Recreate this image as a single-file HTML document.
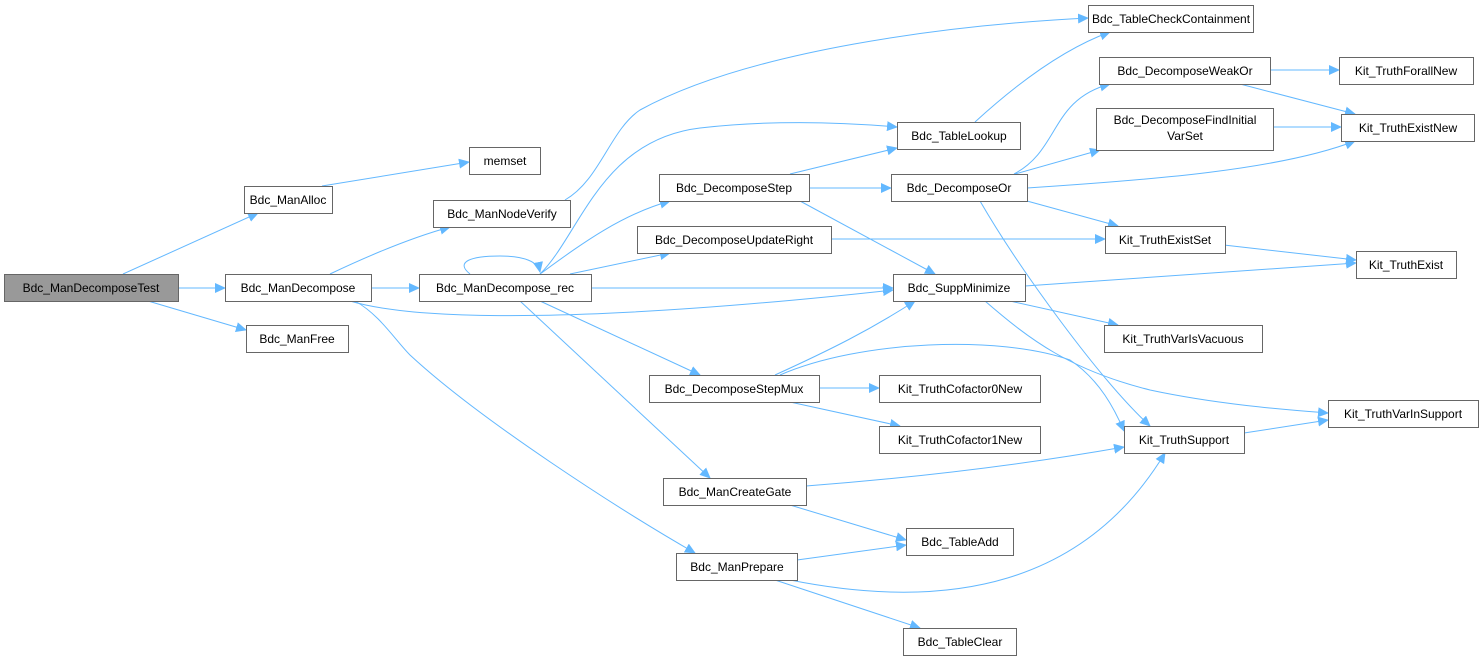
<!DOCTYPE html>
<html><head><meta charset="utf-8"><style>
html,body{margin:0;padding:0;background:#fff;width:1484px;height:661px;overflow:hidden}
svg{display:block}
text{font-family:"Liberation Sans",Arial,sans-serif;font-size:12px;fill:#000}
.n{fill:#fff;stroke:#666;stroke-width:1}
.e{fill:none;stroke:#63b8ff;stroke-width:1}
</style></head><body>
<svg width="1484" height="661" viewBox="0 0 1484 661" xmlns="http://www.w3.org/2000/svg">
<defs><marker id="a" markerUnits="userSpaceOnUse" markerWidth="11" markerHeight="10" refX="10" refY="5" orient="auto"><path d="M0,0 L11,5 L0,10 z" fill="#63b8ff"/></marker></defs>
<g class="e" marker-end="url(#a)">
<path d="M123,274 L258,213"/>
<path d="M178,288 L225,288"/>
<path d="M148,301 L246,330"/>
<path d="M322,186 L469,162"/>
<path d="M330,274 C370,255 410,238 450,227"/>
<path d="M371,288 L419,288"/>
<path d="M350,301 C420,322 600,322 893,290"/>
<path d="M355,301 C380,315 395,340 410,355 C480,420 620,510 695,553"/>
<path d="M470,274 C455,262 470,256 500,256 C525,256 538,262 540,272"/>
<path d="M540,274 C580,235 600,140 700,128 C770,120 840,122 897,127"/>
<path d="M540,274 C580,245 620,215 670,201"/>
<path d="M570,274 L670,253"/>
<path d="M591,288 L893,288"/>
<path d="M540,301 L700,375"/>
<path d="M520,301 L710,478"/>
<path d="M565,200 C600,180 610,130 640,110 C750,50 950,25 1088,18"/>
<path d="M790,174 L897,148"/>
<path d="M809,188 L891,188"/>
<path d="M800,201 L935,274"/>
<path d="M975,122 C1010,90 1060,50 1110,32"/>
<path d="M1014,174 C1060,150 1050,100 1110,84"/>
<path d="M1015,174 L1100,150"/>
<path d="M1027,188 C1150,180 1280,170 1355,141"/>
<path d="M1027,201 L1118,226"/>
<path d="M980,201 C1020,270 1100,380 1150,426"/>
<path d="M1270,70 L1339,70"/>
<path d="M1240,84 L1355,114"/>
<path d="M1273,127 L1341,127"/>
<path d="M831,239 L1105,239"/>
<path d="M1215,244 L1356,260"/>
<path d="M1025,286 L1356,263"/>
<path d="M1010,301 L1118,325"/>
<path d="M985,301 C1030,340 1070,370 1150,390 C1220,405 1290,410 1328,413"/>
<path d="M775,375 C830,350 870,330 915,301"/>
<path d="M780,375 C860,340 1000,335 1070,360 C1100,380 1115,410 1124,431"/>
<path d="M819,388 L879,388"/>
<path d="M790,402 L900,426"/>
<path d="M1244,433 L1328,420"/>
<path d="M806,486 C950,475 1050,460 1124,447"/>
<path d="M790,505 L906,540"/>
<path d="M797,560 L906,545"/>
<path d="M790,580 C950,612 1085,585 1165,453"/>
<path d="M775,580 L920,628"/>
</g>
<g>
<rect x="4.5" y="274.5" width="174" height="27" fill="#999" stroke="#666"/><text x="91" y="292" text-anchor="middle">Bdc_ManDecomposeTest</text>
<rect class="n" x="244.5" y="186.5" width="88" height="27"/><text x="288" y="204" text-anchor="middle">Bdc_ManAlloc</text>
<rect class="n" x="469.5" y="147.5" width="71" height="27"/><text x="505" y="165" text-anchor="middle">memset</text>
<rect class="n" x="433.5" y="200.5" width="137" height="27"/><text x="502" y="218" text-anchor="middle">Bdc_ManNodeVerify</text>
<rect class="n" x="225.5" y="274.5" width="146" height="27"/><text x="298" y="292" text-anchor="middle">Bdc_ManDecompose</text>
<rect class="n" x="246.5" y="325.5" width="102" height="27"/><text x="297" y="343" text-anchor="middle">Bdc_ManFree</text>
<rect class="n" x="419.5" y="274.5" width="172" height="27"/><text x="505" y="292" text-anchor="middle">Bdc_ManDecompose_rec</text>
<rect class="n" x="1088.5" y="5.5" width="165" height="27"/><text x="1171" y="23" text-anchor="middle">Bdc_TableCheckContainment</text>
<rect class="n" x="897.5" y="122.5" width="123" height="27"/><text x="959" y="140" text-anchor="middle">Bdc_TableLookup</text>
<rect class="n" x="659.5" y="174.5" width="150" height="27"/><text x="734" y="192" text-anchor="middle">Bdc_DecomposeStep</text>
<rect class="n" x="891.5" y="174.5" width="136" height="27"/><text x="959" y="192" text-anchor="middle">Bdc_DecomposeOr</text>
<rect class="n" x="1099.5" y="57.5" width="171" height="27"/><text x="1185" y="75" text-anchor="middle">Bdc_DecomposeWeakOr</text>
<rect class="n" x="1339.5" y="57.5" width="134" height="27"/><text x="1406" y="75" text-anchor="middle">Kit_TruthForallNew</text>
<rect class="n" x="1096.5" y="108.5" width="177" height="42"/><text x="1185" y="124" text-anchor="middle">Bdc_DecomposeFindInitial</text><text x="1185" y="140" text-anchor="middle">VarSet</text>
<rect class="n" x="1341.5" y="114.5" width="133" height="27"/><text x="1408" y="132" text-anchor="middle">Kit_TruthExistNew</text>
<rect class="n" x="637.5" y="226.5" width="194" height="27"/><text x="734" y="244" text-anchor="middle">Bdc_DecomposeUpdateRight</text>
<rect class="n" x="1105.5" y="226.5" width="120" height="27"/><text x="1165" y="244" text-anchor="middle">Kit_TruthExistSet</text>
<rect class="n" x="1356.5" y="251.5" width="100" height="27"/><text x="1406" y="269" text-anchor="middle">Kit_TruthExist</text>
<rect class="n" x="893.5" y="274.5" width="132" height="27"/><text x="959" y="292" text-anchor="middle">Bdc_SuppMinimize</text>
<rect class="n" x="1104.5" y="325.5" width="158" height="27"/><text x="1183" y="343" text-anchor="middle">Kit_TruthVarIsVacuous</text>
<rect class="n" x="649.5" y="375.5" width="170" height="27"/><text x="734" y="393" text-anchor="middle">Bdc_DecomposeStepMux</text>
<rect class="n" x="879.5" y="375.5" width="161" height="27"/><text x="960" y="393" text-anchor="middle">Kit_TruthCofactor0New</text>
<rect class="n" x="879.5" y="426.5" width="161" height="27"/><text x="960" y="444" text-anchor="middle">Kit_TruthCofactor1New</text>
<rect class="n" x="1328.5" y="400.5" width="150" height="27"/><text x="1403" y="418" text-anchor="middle">Kit_TruthVarInSupport</text>
<rect class="n" x="1124.5" y="426.5" width="120" height="27"/><text x="1184" y="444" text-anchor="middle">Kit_TruthSupport</text>
<rect class="n" x="663.5" y="478.5" width="143" height="27"/><text x="735" y="496" text-anchor="middle">Bdc_ManCreateGate</text>
<rect class="n" x="906.5" y="528.5" width="107" height="27"/><text x="960" y="546" text-anchor="middle">Bdc_TableAdd</text>
<rect class="n" x="676.5" y="553.5" width="121" height="27"/><text x="737" y="571" text-anchor="middle">Bdc_ManPrepare</text>
<rect class="n" x="903.5" y="628.5" width="113" height="27"/><text x="960" y="646" text-anchor="middle">Bdc_TableClear</text>
</g>
</svg>
</body></html>
